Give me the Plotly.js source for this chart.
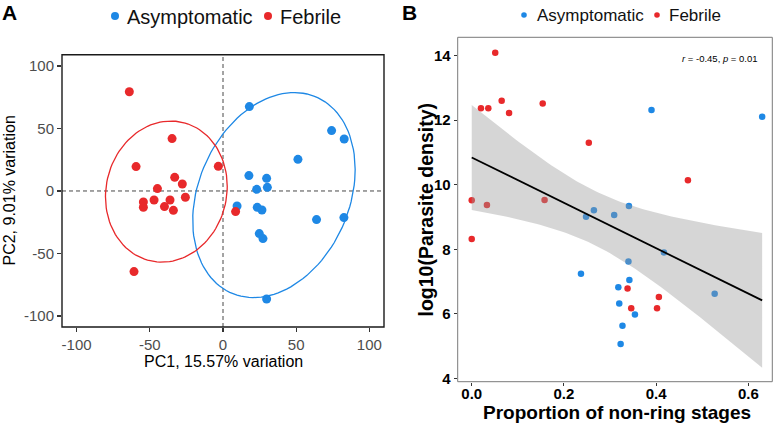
<!DOCTYPE html>
<html>
<head>
<meta charset="utf-8">
<script src="https://cdn.plot.ly/plotly-3.0.1.min.js"></script>
<style>html,body{margin:0;padding:0;background:#fff;}#chart{width:777px;height:424px;}</style>
</head>
<body>
<div id="chart"></div>
<script>
// ---------- data ----------
const groups = ['Asymptomatic', 'Febrile'];
const groupColors = ['#1E88E5', '#E8292B'];

// Panel A: PCA scores
const asymPC1 = [18, 74.2, 82.8, 51.2, 17.7, 29.8, 23, 30.3, 9.6, 23.4, 26.6, 63.9, 82.6, 24.8, 27.3, 29.8];
const asymPC2 = [67.5, 48.3, 41.6, 25.3, 12.3, 10.1, 1.3, 2.9, -12, -13.1, -15.2, -22.9, -21.3, -34.1, -38.1, -86.4];
const febPC1 = [-64, -34.8, -59.4, -3.2, -33, -27.8, -44.8, -25.7, -54.4, -47.1, -36.2, -54.4, -40, -33.9, 8.6, -60.8];
const febPC2 = [79.4, 41.9, 19.5, 19.7, 10.9, 5.6, 1.9, -5, -8.8, -7.2, -7.2, -13, -12.5, -15.5, -16.5, -64.5];
// 95% ellipses: centre and shape matrix
const asymEllipseCentre = [34.8, -3.3];
const asymEllipseShape = [55.5, 0, 20.5, 79.4];
const febEllipseCentre = [-38.7, -0.5];
const febEllipseShape = [41.6, 0, 4.2, 56.3];
const pcTicks = [-100, -50, 0, 50, 100];

// Panel B: proportion of non-ring stages vs log10 parasite density
const asymProp = [0.390, 0.630, 0.248, 0.265, 0.309, 0.341, 0.417, 0.340, 0.237, 0.342, 0.318, 0.320, 0.354, 0.327, 0.323, 0.527];
const asymDens = [12.32, 12.11, 9.01, 9.21, 9.06, 9.34, 7.90, 7.62, 7.24, 7.05, 6.82, 6.32, 5.98, 5.63, 5.06, 6.62];
const febProp = [0.051, 0.020, 0.036, 0.065, 0.081, 0.154, 0.254, 0.469, 0.000, 0.033, 0.158, 0.000, 0.338, 0.406, 0.346, 0.402];
const febDens = [14.09, 12.37, 12.37, 12.60, 12.22, 12.52, 11.30, 10.14, 9.52, 9.37, 9.53, 8.32, 6.78, 6.52, 6.17, 6.17];
const propTicks = [0, 0.2, 0.4, 0.6];
const densTicks = [4, 6, 8, 10, 12, 14];
const statText = '<i>r</i> = -0.45, <i>p</i> = 0.01';

// ---------- helpers ----------
function ellipse(c, m) {
  const xs = [], ys = [];
  for (let i = 0; i <= 120; i++) {
    const t = 2 * Math.PI * i / 120;
    xs.push(c[0] + m[0] * Math.cos(t) + m[1] * Math.sin(t));
    ys.push(c[1] + m[2] * Math.cos(t) + m[3] * Math.sin(t));
  }
  return {xs, ys};
}
function linFit(xs, ys) {
  const n = xs.length;
  const mx = xs.reduce((a, b) => a + b, 0) / n;
  const my = ys.reduce((a, b) => a + b, 0) / n;
  let sxx = 0, sxy = 0;
  for (let i = 0; i < n; i++) { sxx += (xs[i] - mx) ** 2; sxy += (xs[i] - mx) * (ys[i] - my); }
  const b = sxy / sxx, a = my - b * mx;
  let sse = 0;
  for (let i = 0; i < n; i++) sse += (ys[i] - a - b * xs[i]) ** 2;
  const s = Math.sqrt(sse / (n - 2));
  const tq = 2.042; // t(0.975, df = 30)
  const xmin = Math.min(...xs), xmax = Math.max(...xs);
  const gx = [], gy = [], lo = [], hi = [];
  for (let i = 0; i <= 80; i++) {
    const x = xmin + (xmax - xmin) * i / 80;
    const y = a + b * x;
    const se = s * Math.sqrt(1 / n + (x - mx) ** 2 / sxx);
    gx.push(x); gy.push(y); lo.push(y - tq * se); hi.push(y + tq * se);
  }
  return {gx, gy, lo, hi};
}

const FONT = 'Liberation Sans, Arial, sans-serif';
const eA = ellipse(asymEllipseCentre, asymEllipseShape);
const eF = ellipse(febEllipseCentre, febEllipseShape);
const fit = linFit(asymProp.concat(febProp), asymDens.concat(febDens));

const traces = [
  {x: asymPC1, y: asymPC2, type: 'scatter', mode: 'markers', name: groups[0], xaxis: 'x', yaxis: 'y',
   marker: {color: groupColors[0], size: 9}, showlegend: false},
  {x: febPC1, y: febPC2, type: 'scatter', mode: 'markers', name: groups[1], xaxis: 'x', yaxis: 'y',
   marker: {color: groupColors[1], size: 9}, showlegend: false},
  {x: eA.xs, y: eA.ys, type: 'scatter', mode: 'lines', xaxis: 'x', yaxis: 'y',
   line: {color: groupColors[0], width: 1.3}, showlegend: false, hoverinfo: 'skip'},
  {x: eF.xs, y: eF.ys, type: 'scatter', mode: 'lines', xaxis: 'x', yaxis: 'y',
   line: {color: groupColors[1], width: 1.3}, showlegend: false, hoverinfo: 'skip'},
  {x: asymProp, y: asymDens, type: 'scatter', mode: 'markers', name: groups[0], xaxis: 'x2', yaxis: 'y2',
   marker: {color: groupColors[0], size: 6.5}, showlegend: false},
  {x: febProp, y: febDens, type: 'scatter', mode: 'markers', name: groups[1], xaxis: 'x2', yaxis: 'y2',
   marker: {color: groupColors[1], size: 6.5}, showlegend: false},
  {x: fit.gx.concat(fit.gx.slice().reverse()), y: fit.hi.concat(fit.lo.slice().reverse()),
   type: 'scatter', mode: 'lines', fill: 'toself', fillcolor: 'rgba(153,153,153,0.4)',
   line: {width: 0, color: 'rgba(0,0,0,0)'}, xaxis: 'x2', yaxis: 'y2', showlegend: false, hoverinfo: 'skip'},
  {x: fit.gx, y: fit.gy, type: 'scatter', mode: 'lines', line: {color: '#000', width: 1.8},
   xaxis: 'x2', yaxis: 'y2', showlegend: false, hoverinfo: 'skip'}
];

const W = 777, H = 424;
const px = v => v / W, py = v => 1 - v / H;

const axA = {
  showgrid: false, zeroline: false, showline: false,
  ticks: 'outside', ticklen: 4, tickwidth: 1.2, tickcolor: '#333',
  tickfont: {family: FONT, size: 15, color: '#4D4D4D'}, tickvals: pcTicks, ticktext: pcTicks.map(String)
};
const axB = {
  showgrid: false, zeroline: false, showline: false,
  ticks: 'outside', ticklen: 3, tickwidth: 1, tickcolor: '#333',
  tickfont: {family: FONT, size: 15, color: '#000', weight: 'bold'}
};

const layout = {
  width: W, height: H, margin: {l: 0, r: 0, t: 0, b: 0},
  paper_bgcolor: '#fff', plot_bgcolor: '#fff', showlegend: false,
  xaxis: Object.assign({}, axA, {domain: [px(62), px(384)], range: [-110, 110], anchor: 'y'}),
  yaxis: Object.assign({}, axA, {domain: [py(327), py(54.7)], range: [-108.8, 109], anchor: 'x'}),
  xaxis2: Object.assign({}, axB, {domain: [px(457.7), px(772.3)], range: [-0.0304, 0.652], anchor: 'y2',
    tickvals: propTicks, ticktext: propTicks.map(v => v.toFixed(1)), ticklabelstandoff: -5}),
  yaxis2: Object.assign({}, axB, {domain: [py(381.7), py(37.3)], range: [3.895, 14.57], anchor: 'x2',
    tickvals: densTicks, ticktext: densTicks.map(String)}),
  shapes: [
    {type: 'line', xref: 'x', yref: 'y domain', x0: 0, x1: 0, y0: 0, y1: 1, layer: 'below',
     line: {color: '#333', width: 0.9, dash: '4px,3px'}},
    {type: 'line', xref: 'x domain', yref: 'y', x0: 0, x1: 1, y0: 0, y1: 0, layer: 'below',
     line: {color: '#333', width: 0.9, dash: '4px,3px'}},
    // panel frames
    {type: 'rect', xref: 'x domain', yref: 'y domain', x0: 0, x1: 1, y0: 0, y1: 1, layer: 'above',
     fillcolor: 'rgba(0,0,0,0)', line: {color: '#1a1a1a', width: 1.4}},
    {type: 'rect', xref: 'x2 domain', yref: 'y2 domain', x0: 0, x1: 1, y0: 0, y1: 1, layer: 'above',
     fillcolor: 'rgba(0,0,0,0)', line: {color: '#7a7a7a', width: 1}},
    // legend dots
    {type: 'circle', xref: 'paper', yref: 'paper', xsizemode: 'pixel', ysizemode: 'pixel',
     xanchor: px(115), yanchor: py(16), x0: -4, x1: 4, y0: -4, y1: 4, fillcolor: groupColors[0], line: {width: 0}},
    {type: 'circle', xref: 'paper', yref: 'paper', xsizemode: 'pixel', ysizemode: 'pixel',
     xanchor: px(268), yanchor: py(16), x0: -4, x1: 4, y0: -4, y1: 4, fillcolor: groupColors[1], line: {width: 0}},
    {type: 'circle', xref: 'paper', yref: 'paper', xsizemode: 'pixel', ysizemode: 'pixel',
     xanchor: px(524), yanchor: py(15), x0: -2.8, x1: 2.8, y0: -2.8, y1: 2.8, fillcolor: groupColors[0], line: {width: 0}},
    {type: 'circle', xref: 'paper', yref: 'paper', xsizemode: 'pixel', ysizemode: 'pixel',
     xanchor: px(657), yanchor: py(15), x0: -2.8, x1: 2.8, y0: -2.8, y1: 2.8, fillcolor: groupColors[1], line: {width: 0}}
  ],
  annotations: [
    {text: 'A', xref: 'paper', yref: 'paper', x: px(0), y: py(12.5), xanchor: 'left', yanchor: 'middle', showarrow: false,
     font: {family: FONT, size: 21, color: '#000', weight: 'bold'}},
    {text: 'B', xref: 'paper', yref: 'paper', x: px(400), y: py(12.5), xanchor: 'left', yanchor: 'middle', showarrow: false,
     font: {family: FONT, size: 21, color: '#000', weight: 'bold'}},
    {text: groups[0], xref: 'paper', yref: 'paper', x: px(125), y: py(17), xanchor: 'left', yanchor: 'middle', showarrow: false,
     font: {family: FONT, size: 20, color: '#111'}},
    {text: groups[1], xref: 'paper', yref: 'paper', x: px(278), y: py(17), xanchor: 'left', yanchor: 'middle', showarrow: false,
     font: {family: FONT, size: 20, color: '#111'}},
    {text: groups[0], xref: 'paper', yref: 'paper', x: px(535), y: py(16), xanchor: 'left', yanchor: 'middle', showarrow: false,
     font: {family: FONT, size: 17, color: '#111'}},
    {text: groups[1], xref: 'paper', yref: 'paper', x: px(667), y: py(16), xanchor: 'left', yanchor: 'middle', showarrow: false,
     font: {family: FONT, size: 17, color: '#111'}},
    {text: 'PC1, 15.57% variation', xref: 'paper', yref: 'paper', x: px(223), y: py(361.5), xanchor: 'center', yanchor: 'middle', showarrow: false,
     font: {family: FONT, size: 16, color: '#000'}},
    {text: 'PC2, 9.01% variation', xref: 'paper', yref: 'paper', x: px(8.5), y: py(191), xanchor: 'center', yanchor: 'middle', showarrow: false,
     textangle: -90, font: {family: FONT, size: 16, color: '#000'}},
    {text: 'Proportion of non-ring stages', xref: 'paper', yref: 'paper', x: px(617), y: py(412), xanchor: 'center', yanchor: 'middle', showarrow: false,
     font: {family: FONT, size: 19, color: '#000', weight: 'bold'}},
    {text: 'log10(Parasite density)', xref: 'paper', yref: 'paper', x: px(425), y: py(209.5), xanchor: 'center', yanchor: 'middle', showarrow: false,
     textangle: -90, font: {family: FONT, size: 19.5, color: '#000', weight: 'bold'}},
    {text: statText, xref: 'paper', yref: 'paper', x: px(760), y: py(58.3), xanchor: 'right', yanchor: 'middle', showarrow: false,
     font: {family: FONT, size: 9.5, color: '#000'}}
  ]
};

Plotly.newPlot('chart', traces, layout, {staticPlot: true, displayModeBar: false});
</script>
</body>
</html>
